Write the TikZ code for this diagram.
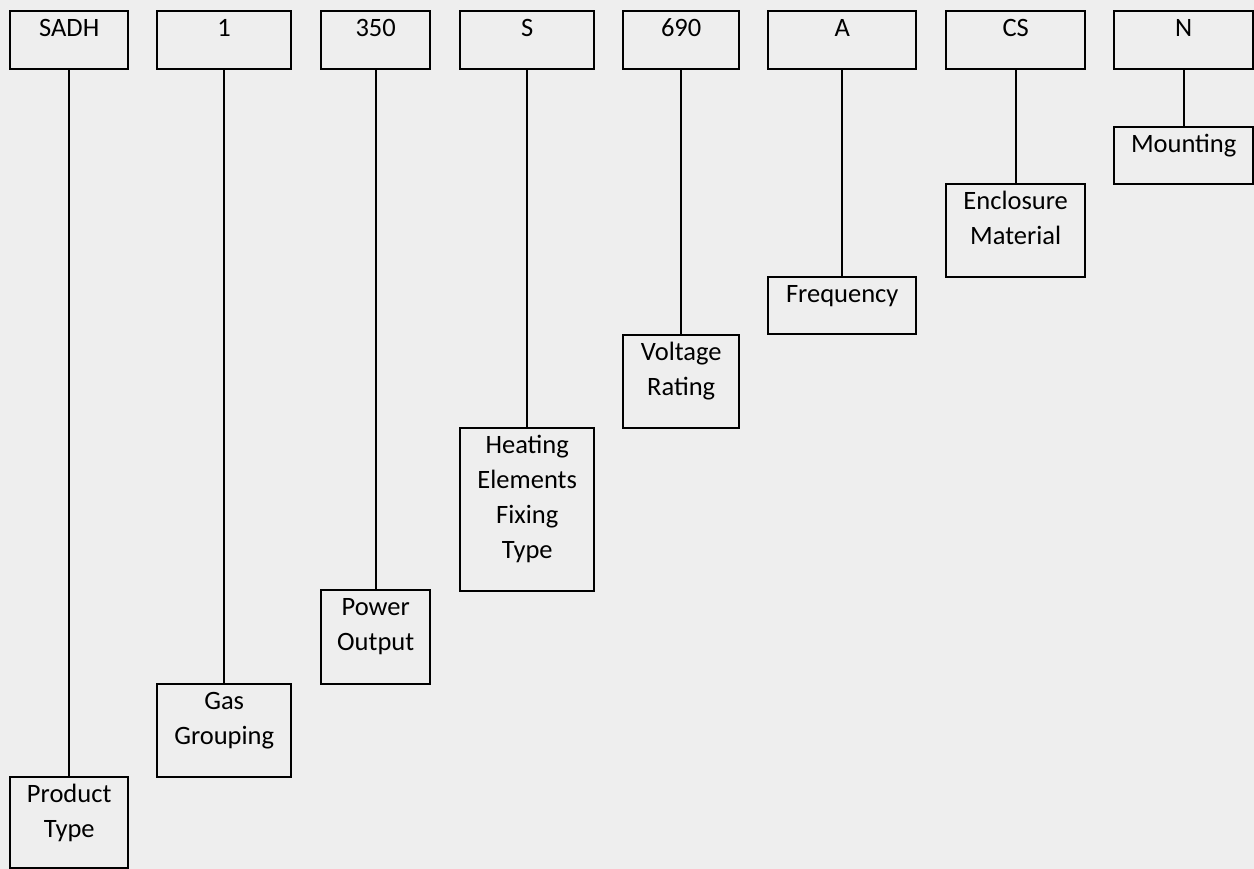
\documentclass[tikz,border=0pt]{standalone}
\usepackage{fontspec}
\setmainfont{Carlito}
\definecolor{bgc}{RGB}{238,238,238}
\tikzset{
  box/.style={draw=black, line width=2.4pt, inner sep=0pt, anchor=north west},
  lbl/.style={text width=200pt, align=center, inner sep=0pt, anchor=base,
              font=\fontsize{26.5}{35}\selectfont},
  conn/.style={draw=black, line width=2.4pt}
}
\newcommand{\mkbox}[6]{%
  \node[box, minimum width={(#4-#2)*1pt}, minimum height={(#5-#3)*1pt}] (#1) at (#2,#3) {};
  \node[lbl] (#1t) at ([yshift=-26.5pt]#1.north) {#6};
}
\begin{document}
\begin{tikzpicture}[x=1pt,y=-1pt]
\fill[bgc] (0,0) rectangle (1254,869);
\useasboundingbox (0,0) rectangle (1254,869);
% top row
\mkbox{t1}{9}{10}{127}{68}{SADH}
\mkbox{t2}{156}{10}{290}{68}{1}
\mkbox{t3}{320}{10}{429}{68}{350}
\mkbox{t4}{459}{10}{593}{68}{S}
\mkbox{t5}{622}{10}{738}{68}{690}
\mkbox{t6}{767}{10}{915}{68}{A}
\mkbox{t7}{945}{10}{1084}{68}{CS}
\mkbox{t8}{1113}{10}{1252}{68}{N}
% bottom boxes
\mkbox{b1}{9}{776}{127}{867}{Product\\Type}
\mkbox{b2}{156}{683}{290}{776}{Gas\\Grouping}
\mkbox{b3}{320}{589}{429}{683}{Power\\Output}
\mkbox{b4}{459}{427}{593}{590}{Heating\\Elements\\Fixing\\Type}
\mkbox{b5}{622}{334}{738}{427}{Voltage\\Rating}
\mkbox{b6}{767}{276}{915}{333}{Frequency}
\mkbox{b7}{945}{183}{1084}{276}{Enclosure\\Material}
\mkbox{b8}{1113}{126}{1252}{183}{Mounting}
% connectors
\foreach \i in {1,...,8}{\draw[conn] (t\i.south) -- (b\i.north);}
\end{tikzpicture}
\end{document}
